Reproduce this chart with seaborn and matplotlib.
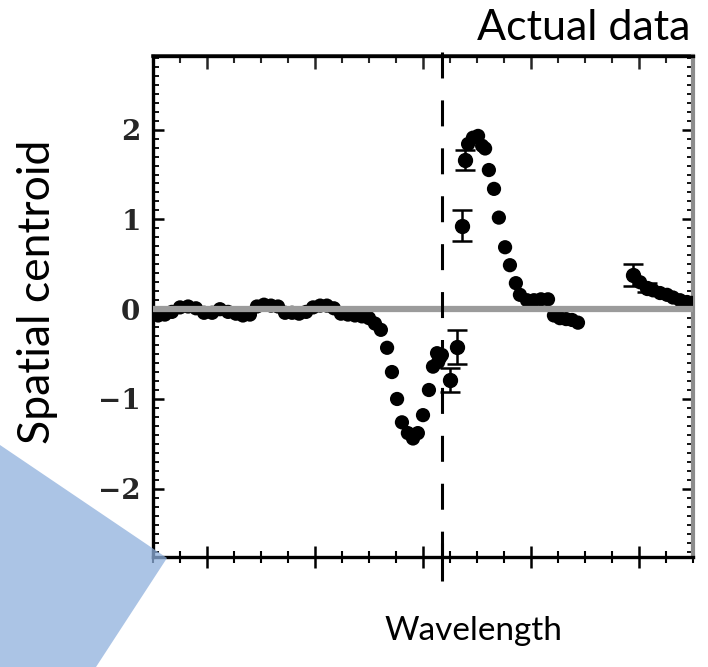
import matplotlib
matplotlib.use("Agg")
import matplotlib.pyplot as plt
from matplotlib.patches import Polygon
from matplotlib.ticker import MultipleLocator, FixedLocator, NullFormatter
import seaborn as sns
import pandas as pd

# Wavelength in channel units, centroid offset in arcsec
wavelength = [
    0.19, 0.44, 0.70, 1.00, 1.30, 1.59, 1.89, 2.19, 2.48, 2.78,
    3.07, 3.33, 3.59, 3.85, 4.11, 4.37, 4.63, 4.89, 5.15, 5.41,
    5.67, 5.93, 6.19, 6.44, 6.70, 6.96, 7.22, 7.48, 7.74, 8.00,
    8.22, 8.44, 8.67, 8.85, 9.04, 9.22, 9.44, 9.63, 9.81, 10.00,
    10.22, 10.37, 10.52, 10.56, 10.63, 10.70,
    11.67, 11.85, 12.04, 12.19, 12.30, 12.44, 12.63, 12.81, 13.04, 13.22,
    13.44, 13.59, 13.85, 14.11, 14.37, 14.63, 14.85, 15.07, 15.30, 15.52,
    15.74,
    18.04, 18.52, 18.78, 19.04, 19.26, 19.52, 19.78, 19.96,
]
centroid = [
    -0.07, -0.06, -0.03, 0.02, 0.03, 0.01, -0.04, -0.04, 0.00, -0.03,
    -0.05, -0.07, -0.06, 0.03, 0.05, 0.04, 0.03, -0.04, -0.04, -0.05,
    -0.03, 0.02, 0.04, 0.04, 0.01, -0.05, -0.06, -0.07, -0.08, -0.10,
    -0.16, -0.23, -0.43, -0.70, -1.00, -1.26, -1.38, -1.44, -1.38, -1.18,
    -0.90, -0.64, -0.49, -0.59, -0.54, -0.51,
    1.84, 1.91, 1.93, 1.82, 1.79, 1.55, 1.34, 1.02, 0.69, 0.49,
    0.29, 0.16, 0.10, 0.10, 0.11, 0.11, -0.07, -0.10, -0.11, -0.12,
    -0.15,
    0.30, 0.21, 0.18, 0.16, 0.13, 0.10, 0.08, 0.07,
]

# Points carrying error bars
err_wavelength = [11.00, 11.26, 11.44, 11.56, 17.78, 18.30]
err_centroid = [-0.79, -0.42, 0.93, 1.66, 0.38, 0.24]
err_size = [0.13, 0.19, 0.17, 0.11, 0.12, 0.05]

line_center = 10.7
x_major = [2, 6, 10, 14, 18]
y_ticks = [-2, -1, 0, 1, 2]
y_tick_labels = ["\u22122", "\u22121", "0", "1", "2"]

sns.set_theme(style="white")
plt.rcParams["font.family"] = ["Lato", "DejaVu Sans"]

W, H = 708, 667
fig = plt.figure(figsize=(W / 100, H / 100), dpi=100)
fig.patch.set_facecolor("white")
ax = fig.add_axes([153 / W, 1 - 557 / H, 540 / W, 501 / H])

df = pd.DataFrame({"wavelength": wavelength, "centroid": centroid})
sns.scatterplot(data=df, x="wavelength", y="centroid", ax=ax, s=105,
                color="black", edgecolor="none", linewidth=0, zorder=3,
                legend=False)
ax.errorbar(err_wavelength, err_centroid, yerr=err_size, fmt="o",
            color="black", ms=10, capsize=7, elinewidth=1.8,
            capthick=1.8, zorder=3)

# zero level drawn over the points
ax.axhline(0, color="#9b9b9b", lw=4.5, zorder=4)

ax.set_xlim(0, 20)
ax.set_ylim(-2.76, 2.82)

# dashed line at the rest wavelength, running through the bottom frame
lw_d = 2.2
ax.plot([line_center, line_center], [2.86, -2.76], color="black", lw=lw_d,
        linestyle=(0, (18.7 / lw_d, 15.8 / lw_d)), solid_capstyle="butt",
        dash_capstyle="butt", clip_on=False, zorder=5)
ax.plot([line_center, line_center], [-2.6, -3.03], color="black", lw=lw_d,
        solid_capstyle="butt", clip_on=False, zorder=5)

ax.xaxis.set_major_locator(FixedLocator(x_major))
ax.xaxis.set_minor_locator(MultipleLocator(1))
ax.xaxis.set_major_formatter(NullFormatter())
ax.yaxis.set_major_locator(FixedLocator(y_ticks))
ax.yaxis.set_minor_locator(MultipleLocator(0.1))
ax.set_yticklabels(y_tick_labels, family="DejaVu Serif", fontweight="bold",
                   fontsize=20)

ax.tick_params(axis="x", which="major", direction="inout", length=16,
               width=1.8, bottom=True, top=False, color="black")
ax.tick_params(axis="x", which="minor", direction="inout", length=8,
               width=1.5, bottom=True, top=False, color="black")
ax.tick_params(axis="y", which="major", direction="in", length=8, width=1.8,
               left=True, right=True, pad=9, color="black")
ax.tick_params(axis="y", which="minor", direction="in", length=4, width=1.3,
               left=True, right=True, color="black")

top = ax.secondary_xaxis("top")
top.xaxis.set_major_locator(FixedLocator(x_major))
top.xaxis.set_minor_locator(MultipleLocator(1))
top.xaxis.set_major_formatter(NullFormatter())
top.tick_params(which="major", direction="in", length=9, width=1.8)
top.tick_params(which="minor", direction="in", length=5, width=1.5)
top.spines["top"].set_linewidth(2.6)

for side in ["left", "bottom", "top"]:
    ax.spines[side].set_color("black")
    ax.spines[side].set_linewidth(2.4)
ax.spines["right"].set_color("#8c8c8c")
ax.spines["right"].set_linewidth(3)
ax.set_xlabel("")
ax.set_ylabel("")

fig.text(690 / W, 1 - 40 / H, "Actual data", ha="right", va="baseline",
         fontsize=31, color="black")
fig.text(38 / W, 1 - 292 / H, "Spatial centroid", rotation=90, ha="center",
         va="center", fontsize=32, color="black")
fig.text(473 / W, 1 - 631 / H, "Wavelength", ha="center", va="center",
         fontsize=24, color="black")

# translucent blue slide shape in the lower left corner
shape = Polygon([(0, 1 - 445 / H), (167 / W, 1 - 558 / H), (96 / W, 0), (0, 0)],
                closed=True, transform=fig.transFigure, facecolor="#8fb0dd",
                edgecolor="none", alpha=0.75, zorder=10)
fig.patches.append(shape)

fig.savefig("out.png", dpi=100)
